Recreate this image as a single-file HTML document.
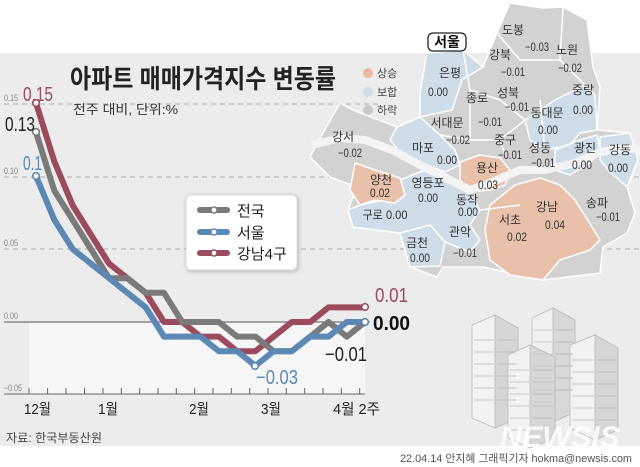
<!DOCTYPE html>
<html><head><meta charset="utf-8"><style>
html,body{margin:0;padding:0;background:#fff;}
svg{display:block;}
text{font-family:"Liberation Sans","Noto Sans CJK KR",sans-serif;}
</style></head><body>
<svg width="640" height="467" viewBox="0 0 640 467" xmlns="http://www.w3.org/2000/svg">
<rect x="0" y="0" width="640" height="467" fill="#fff"/>
<rect x="0" y="53" width="640" height="393" fill="#ececec"/>
<rect x="29" y="322" width="336" height="72" fill="#f6f6f6"/>
<g stroke="#aaa" stroke-width="1" stroke-dasharray="5,4">
<line x1="4" y1="104" x2="380" y2="104"/>
<line x1="4" y1="177" x2="640" y2="177"/>
<line x1="4" y1="249" x2="640" y2="249"/>
</g>
<line x1="4" y1="322" x2="370" y2="322" stroke="#555" stroke-width="1"/>
<line x1="4" y1="394" x2="365" y2="394" stroke="#666" stroke-width="1"/>
<g font-size="9" fill="#888">
<text x="4" y="101" textLength="14" lengthAdjust="spacingAndGlyphs">0.15</text><text x="4" y="174" textLength="14" lengthAdjust="spacingAndGlyphs">0.10</text>
<text x="4" y="246" textLength="14" lengthAdjust="spacingAndGlyphs">0.05</text><text x="4" y="319" textLength="14" lengthAdjust="spacingAndGlyphs">0.00</text>
<text x="4" y="391" textLength="18" lengthAdjust="spacingAndGlyphs">−0.05</text></g>
<g stroke="#666" stroke-width="1">
<path d="M29 394v-6M47.6 394v-6M66 394v-6M84.5 394v-6M103 394v-6M121.3 394v-6M139.7 394v-6M158 394v-6M176.3 394v-6M194.7 394v-6M213 394v-6M231.3 394v-6M249.7 394v-6M268 394v-6M286.3 394v-6M304.7 394v-6M323 394v-6M341.3 394v-6M359.7 394v-6"/>
</g>
<text x="70" y="88" font-size="26" font-weight="bold" fill="#222" textLength="266" lengthAdjust="spacingAndGlyphs">아파트 매매가격지수 변동률</text>
<text x="73" y="114" font-size="13" fill="#333" textLength="105" lengthAdjust="spacingAndGlyphs">전주 대비, 단위:%</text>

<!-- map -->
<g stroke="#fff" stroke-width="1.5" stroke-linejoin="round">
<path fill="#d2d2d2" d="M510 3L543 8L563 7L587 20L593 67L600 87L597 130L630 133L638 160L627 187L635 213L627 233L603 247L600 273L543 280L483 267L443 267L437 277L410 267L400 233L353 227L348 210L357 187L330 177L310 157L323 133L340 103L353 110L397 127L420 117L420 93L427 53L463 50L483 67L497 33Z"/>
<path fill="#cfdde8" d="M420 93L427 53L463 50L483 67L462 80L452 110L420 117Z"/>
<path fill="#cfdde8" d="M397 127L420 117L440 135L455 150L460 165L445 172L420 162L400 152L390 140Z"/>
<path fill="#cfdde8" d="M400 180L425 170L450 180L470 195L480 210L470 225L480 240L470 252L445 242L440 266L410 267L400 233L353 227L348 210L360 205L385 200Z"/>
<path fill="#e9c1aa" d="M355 163L375 170L400 178L405 195L395 203L375 200L360 205L350 190Z"/>
<path fill="#e9c1aa" d="M460 162L480 155L500 158L510 170L505 185L490 190L470 192L460 180Z"/>
<path fill="#e9c1aa" d="M490 205L515 185L540 178L560 185L575 200L600 240L590 250L560 260L543 280L510 275L490 260L485 230Z"/>
<path fill="#cfdde8" d="M525 120L555 100L585 85L595 95L597 130L580 133L570 145L545 150L530 140Z"/>
<path fill="#cfdde8" d="M555 150L580 140L597 135L600 150L590 163L570 175L555 170Z"/>
<path fill="#cfdde8" d="M600 137L630 133L638 160L627 187L610 172L600 160Z"/>
<path fill="none" d="M463 50L470 90L500 100L525 120M470 90L470 140L500 140L525 120M440 135L470 140M500 140L505 155M540 100L545 150M563 7L560 60L585 85M497 33L520 60L560 60M400 233L430 225L445 242M480 210L520 205"/>
</g>
<path d="M312 145L340 138L365 140L392 150L420 165L450 180L470 190L490 183L520 170L545 170L575 163L600 152L625 148L640 150" fill="none" stroke="#f4f4f4" stroke-width="8"/>
<rect x="428" y="33" width="38" height="18" rx="5" fill="#fff" stroke="#222" stroke-width="1.3"/>
<text x="447" y="47" font-size="14" font-weight="bold" text-anchor="middle" fill="#111">서울</text>
<circle cx="368" cy="73" r="5" fill="#e9b89c"/><circle cx="368" cy="92" r="5" fill="#cfdde8"/><circle cx="368" cy="110" r="5" fill="#c8c8c8"/>
<g font-size="11" fill="#444"><text x="377" y="77">상승</text><text x="377" y="96">보합</text><text x="377" y="114">하락</text></g>
<g font-size="12" fill="#333" text-anchor="middle">
<text x="513" y="34">도봉</text><text x="537" y="51" textLength="24" lengthAdjust="spacingAndGlyphs">−0.03</text>
<text x="567" y="54">노원</text><text x="570" y="72" textLength="24" lengthAdjust="spacingAndGlyphs">−0.02</text>
<text x="500" y="59">강북</text><text x="513" y="76" textLength="24" lengthAdjust="spacingAndGlyphs">−0.01</text>
<text x="450" y="77">은평</text><text x="438" y="96" textLength="20" lengthAdjust="spacingAndGlyphs">0.00</text>
<text x="508" y="97">성북</text><text x="517" y="111" textLength="24" lengthAdjust="spacingAndGlyphs">−0.01</text>
<text x="477" y="102">종로</text><text x="490" y="126" textLength="24" lengthAdjust="spacingAndGlyphs">−0.01</text>
<text x="447" y="127">서대문</text><text x="458" y="144" textLength="24" lengthAdjust="spacingAndGlyphs">−0.02</text>
<text x="583" y="94">중랑</text><text x="583" y="114" textLength="20" lengthAdjust="spacingAndGlyphs">0.00</text>
<text x="547" y="117">동대문</text><text x="548" y="134" textLength="20" lengthAdjust="spacingAndGlyphs">0.00</text>
<text x="343" y="141">강서</text><text x="350" y="157" textLength="24" lengthAdjust="spacingAndGlyphs">−0.02</text>
<text x="423" y="152">마포</text><text x="447" y="164" textLength="20" lengthAdjust="spacingAndGlyphs">0.00</text>
<text x="505" y="144">중구</text><text x="510" y="159" textLength="24" lengthAdjust="spacingAndGlyphs">−0.01</text>
<text x="540" y="152">성동</text><text x="543" y="167" textLength="24" lengthAdjust="spacingAndGlyphs">−0.01</text>
<text x="585" y="152">광진</text><text x="582" y="169" textLength="20" lengthAdjust="spacingAndGlyphs">0.00</text>
<text x="620" y="154">강동</text><text x="618" y="172" textLength="20" lengthAdjust="spacingAndGlyphs">0.00</text>
<text x="487" y="172">용산</text><text x="488" y="189" textLength="20" lengthAdjust="spacingAndGlyphs">0.03</text>
<text x="381" y="184">양천</text><text x="380" y="197" textLength="20" lengthAdjust="spacingAndGlyphs">0.02</text>
<text x="428" y="187">영등포</text><text x="428" y="202" textLength="20" lengthAdjust="spacingAndGlyphs">0.00</text>
<text x="467" y="204">동작</text><text x="468" y="216" textLength="20" lengthAdjust="spacingAndGlyphs">0.00</text>
<text x="385" y="219" textLength="45" lengthAdjust="spacingAndGlyphs">구로 0.00</text>
<text x="597" y="207">송파</text><text x="608" y="221" textLength="24" lengthAdjust="spacingAndGlyphs">−0.01</text>
<text x="547" y="211">강남</text><text x="555" y="229" textLength="20" lengthAdjust="spacingAndGlyphs">0.04</text>
<text x="510" y="224">서초</text><text x="517" y="241" textLength="20" lengthAdjust="spacingAndGlyphs">0.02</text>
<text x="417" y="247">금천</text><text x="420" y="262" textLength="20" lengthAdjust="spacingAndGlyphs">0.00</text>
<text x="460" y="236">관악</text><text x="465" y="257" textLength="24" lengthAdjust="spacingAndGlyphs">−0.01</text>
</g>

<!-- buildings -->
<g stroke="#bbb" stroke-width="0.8">
<path d="M472 325L495 315L518 328L518 418L495 428L472 418Z" fill="#f2f2f2"/>
<path d="M495 315L518 328L518 418L495 428Z" fill="#d6d6d6"/>
<path d="M532 318L553 308L575 320L575 412L553 422L532 412Z" fill="#f0f0f0"/>
<path d="M553 308L575 320L575 412L553 422Z" fill="#d8d8d8"/>
<path d="M508 355L530 345L555 357L555 438L530 448L508 438Z" fill="#f2f2f2"/>
<path d="M530 345L555 357L555 438L530 448Z" fill="#d6d6d6"/>
<path d="M570 345L595 335L618 348L618 430L595 440L570 428Z" fill="#f2f2f2"/>
<path d="M595 335L618 348L618 430L595 440Z" fill="#d6d6d6"/>
</g>
<g stroke="#c8c8c8" stroke-width="1">
<path d="M474 340h20M474 352h20M474 364h20M474 376h20M474 388h20M474 400h20M510 370h19M510 382h19M510 394h19M510 406h19M510 418h19M510 430h19M534 330h18M534 342h18M534 354h18M534 366h18M534 378h18M534 390h18M534 402h18M572 360h22M572 372h22M572 384h22M572 396h22M572 408h22M572 420h22"/>
<path d="M497 340h19M497 352h19M497 364h19M497 376h19M497 388h19M497 400h19M532 370h21M532 382h21M532 394h21M532 406h21M532 418h21M555 330h18M555 342h18M555 354h18M555 366h18M555 378h18M555 390h18M597 360h19M597 372h19M597 384h19M597 396h19M597 408h19M597 420h19" stroke="#bdbdbd"/>
</g>
<text x="560" y="447" font-size="30" font-weight="bold" font-style="italic" fill="#fff" fill-opacity="0.85" text-anchor="middle" textLength="120" lengthAdjust="spacingAndGlyphs">NEWSIS</text>

<!-- series -->
<g fill="none" stroke-width="6" stroke-linejoin="round" stroke-linecap="round">
<polyline stroke="#9c4b5c" points="36,103 54.3,161.4 72.6,205.2 90.8,234.4 109.1,263.6 127.4,278.2 145.7,292.8 164,322 182.2,322 200.5,336.6 218.8,336.6 237.1,351.2 255.4,351.2 273.6,336.6 291.9,322 310.2,322 328.5,307.4 346.8,307.4 365,307.4"/>
<polyline stroke="#7a7a7a" points="36,132.2 54.3,190.6 72.6,219.8 90.8,249 109.1,278.2 127.4,278.2 145.7,292.8 164,292.8 182.2,322 200.5,322 218.8,322 237.1,336.6 255.4,336.6 273.6,351.2 291.9,351.2 310.2,336.6 328.5,322 346.8,336.6 365,322"/>
<polyline stroke="#5b88b5" points="36,176 54.3,219.8 72.6,249 90.8,263.6 109.1,278.2 127.4,292.8 145.7,307.4 164,336.6 182.2,336.6 200.5,336.6 218.8,351.2 237.1,351.2 255.4,365.8 273.6,351.2 291.9,351.2 310.2,336.6 328.5,336.6 346.8,322 365,322"/>
</g>
<g fill="#fff" stroke-width="1.6">
<circle cx="36" cy="103" r="3.3" stroke="#9c4b5c"/>
<circle cx="36" cy="132" r="3.3" stroke="#7a7a7a"/>
<circle cx="36" cy="176" r="3.3" stroke="#5b88b5"/>
<circle cx="255" cy="366" r="3.3" stroke="#5b88b5"/>
<circle cx="365" cy="307" r="3.3" stroke="#9c4b5c"/>
<circle cx="365" cy="322" r="3.3" stroke="#5b88b5"/>
</g>
<g font-size="20">
<text x="23" y="101" fill="#9c4b5c" textLength="30" lengthAdjust="spacingAndGlyphs">0.15</text>
<text x="5" y="131" fill="#222" textLength="30" lengthAdjust="spacingAndGlyphs">0.13</text>
<text x="23" y="170" fill="#5b88b5" textLength="19" lengthAdjust="spacingAndGlyphs">0.1</text>
<text x="375" y="302" fill="#9c4b5c" textLength="33" lengthAdjust="spacingAndGlyphs">0.01</text>
<text x="373" y="330" fill="#111" font-weight="bold" textLength="37" lengthAdjust="spacingAndGlyphs">0.00</text>
<text x="325" y="361" fill="#222" textLength="42" lengthAdjust="spacingAndGlyphs">−0.01</text>
<text x="256" y="384" fill="#5b88b5" textLength="42" lengthAdjust="spacingAndGlyphs">−0.03</text>
</g>

<!-- legend -->
<rect x="186" y="195" width="111" height="75" rx="5" fill="#fff" stroke="#ddd" style="filter:drop-shadow(1px 1px 2px rgba(0,0,0,0.25))"/>
<g stroke-width="6" stroke-linecap="round">
<line x1="200" y1="210" x2="227" y2="210" stroke="#7a7a7a"/>
<line x1="200" y1="232" x2="227" y2="232" stroke="#5b88b5"/>
<line x1="200" y1="253" x2="227" y2="253" stroke="#9c4b5c"/>
</g>
<g fill="#fff" stroke-width="1.4">
<circle cx="214" cy="210" r="3" stroke="#7a7a7a"/>
<circle cx="214" cy="232" r="3" stroke="#5b88b5"/>
<circle cx="214" cy="253" r="3" stroke="#9c4b5c"/>
</g>
<g font-size="15" fill="#222"><text x="237" y="216">전국</text><text x="237" y="238">서울</text><text x="237" y="259">강남4구</text></g>

<g font-size="15" fill="#222">
<text x="24" y="414" textLength="27" lengthAdjust="spacingAndGlyphs">12월</text><text x="98" y="414" textLength="20" lengthAdjust="spacingAndGlyphs">1월</text>
<text x="189" y="414" textLength="20" lengthAdjust="spacingAndGlyphs">2월</text><text x="261" y="414" textLength="20" lengthAdjust="spacingAndGlyphs">3월</text>
<text x="333" y="414" textLength="47" lengthAdjust="spacingAndGlyphs">4월 2주</text></g>
<text x="6" y="442" font-size="12" fill="#444" textLength="96" lengthAdjust="spacingAndGlyphs">자료: 한국부동산원</text>
<text x="632" y="462" font-size="11" fill="#555" text-anchor="end" textLength="232" lengthAdjust="spacingAndGlyphs">22.04.14 안지혜 그래픽기자 hokma@newsis.com</text>
</svg>
</body></html>
